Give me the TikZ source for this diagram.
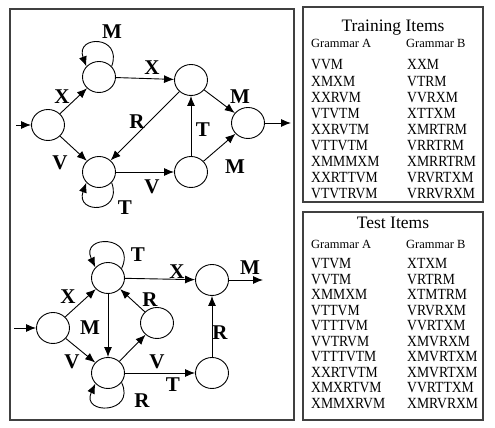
\documentclass[tikz,border=0pt]{standalone}
\usepackage{fontspec}
\usepackage{graphicx}
\setmainfont{Liberation Serif}
\usetikzlibrary{arrows.meta,shapes.geometric}
\newcommand{\narrow}[1]{\scalebox{0.88}[1]{#1}}
\begin{document}
\begin{tikzpicture}[x=1pt,y=1pt,
  st/.style={draw, ellipse, minimum width=33pt, minimum height=31pt, inner sep=0pt, line width=0.9pt},
  arr/.style={-{Latex[length=10pt,width=8pt]}, line width=0.9pt},
  lbl/.style={font=\fontsize{21}{21}\selectfont\bfseries, inner sep=0pt},
  box/.style={draw=black!75, line width=1.4pt},
  itm/.style={font=\fontsize{15.5}{15.5}\selectfont, anchor=base west, inner sep=0pt},
  hdr/.style={font=\fontsize{12.5}{12.5}\selectfont, anchor=base west, inner sep=0pt},
  ttl/.style={font=\fontsize{17.5}{17.5}\selectfont, anchor=base, inner sep=0pt}]
\useasboundingbox (0,0) rectangle (495,428);
% frames
\draw[box] (10,419) rectangle (294,8);
\draw[box] (303,421) rectangle (483,226);
\draw[box] (303,216) rectangle (483,8);

% ---------- top graph ----------
\node[st] (S) at (48,303) {};
\node[st] (A) at (99,351) {};
\node[st] (B) at (191,348) {};
\node[st] (C) at (248,305) {};
\node[st] (D) at (99,256) {};
\node[st] (E) at (191,256) {};
\coordinate (Sin) at (16,303);
\coordinate (Cout) at (291,305);
\draw[arr] (Sin) -- (S);
\draw[arr] (S) -- (A);
\draw[arr] (S) -- (D);
\draw[arr] (A) -- (B);
\draw[arr] (B) -- (C);
\draw[arr] (E) -- (C);
\draw[arr] (E) -- (B);
\draw[arr] (B) -- (D);
\draw[arr] (D) -- (E);
\draw[arr] (C) -- (Cout);
\draw[arr] (A.40) to[out=70,in=110,looseness=3.4] (A.140);
\draw[arr] (D.-40) to[out=-70,in=-110,looseness=3.4] (D.-140);
\node[lbl] (lA) at (62,331) {X};
\node[lbl] (lB) at (60,265) {V};
\node[lbl] (lC) at (112,396) {M};
\node[lbl] (lD) at (152,360) {X};
\node[lbl] (lE) at (240,331) {M};
\node[lbl] (lF) at (137,306) {R};
\node[lbl] (lG) at (203,298) {T};
\node[lbl] (lH) at (235,261) {M};
\node[lbl] (lI) at (152,241) {V};
\node[lbl] (lJ) at (125,220) {T};

% ---------- bottom graph ----------
\node[st] (S2) at (53,100) {};
\node[st] (P) at (108,150) {};
\node[st] (Q) at (212,148) {};
\node[st] (Rn) at (157,105) {};
\node[st] (U) at (108,55) {};
\node[st] (W) at (212,55) {};
\coordinate (S2in) at (14,100);
\coordinate (Qout) at (263,148);
\draw[arr] (S2in) -- (S2);
\draw[arr] (S2) -- (P);
\draw[arr] (S2) -- (U);
\draw[arr] (P) -- (Q);
\draw[arr] (P) -- (U);
\draw[arr] (Rn) -- (P);
\draw[arr] (U) -- (Rn);
\draw[arr] (U) -- (W);
\draw[arr] (W) -- (Q);
\draw[arr] (Q) -- (Qout);
\draw[arr] (P.35) to[out=65,in=115,looseness=3.6] (P.140);
\draw[arr] (U.-35) to[out=-65,in=-115,looseness=3.4] (U.-140);
\node[lbl] (mA) at (68,131) {X};
\node[lbl] (mB) at (72,66) {V};
\node[lbl] (mC) at (138,173) {T};
\node[lbl] (mD) at (177,156) {X};
\node[lbl] (mE) at (250,160) {M};
\node[lbl] (mF) at (90,100) {M};
\node[lbl] (mG) at (150,128) {R};
\node[lbl] (mH) at (157,66) {V};
\node[lbl] (mI) at (173,43) {T};
\node[lbl] (mJ) at (220,95) {R};
\node[lbl] (mK) at (142,27) {R};

% ---------- training items ----------
\node[ttl] (t1) at (393,396) {Training Items};
\node[hdr] (t1a) at (311,380) {Grammar A};
\node[hdr] (t1b) at (406,380) {Grammar B};
\foreach \a/\b [count=\i from 0] in {VVM/XXM, XMXM/VTRM, XXRVM/VVRXM, VTVTM/XTTXM, XXRVTM/XMRTRM, VTTVTM/VRRTRM, XMMMXM/XMRRTRM, XXRTTVM/VRVRTXM, VTVTRVM/VRRVRXM}{
  \node[itm] (ta\i) at (311,358-16.1*\i) {\narrow{\a}};
  \node[itm] (tb\i) at (407,358-16.1*\i) {\narrow{\b}};
}

% ---------- test items ----------
\node[ttl] (t2) at (393,199) {Test Items};
\node[hdr] (t2a) at (311,179) {Grammar A};
\node[hdr] (t2b) at (406,179) {Grammar B};
\foreach \a/\b [count=\i from 0] in {VTVM/XTXM, VVTM/VRTRM, XMMXM/XTMTRM, VTTVM/VRVRXM, VTTTVM/VVRTXM, VVTRVM/XMVRXM, VTTTVTM/XMVRTXM, XXRTVTM/XMVRTXM, XMXRTVM/VVRTTXM, XMMXRVM/XMRVRXM}{
  \node[itm] (sa\i) at (311,159-15.5*\i) {\narrow{\a}};
  \node[itm] (sb\i) at (407,159-15.5*\i) {\narrow{\b}};
}
\end{tikzpicture}
\end{document}
